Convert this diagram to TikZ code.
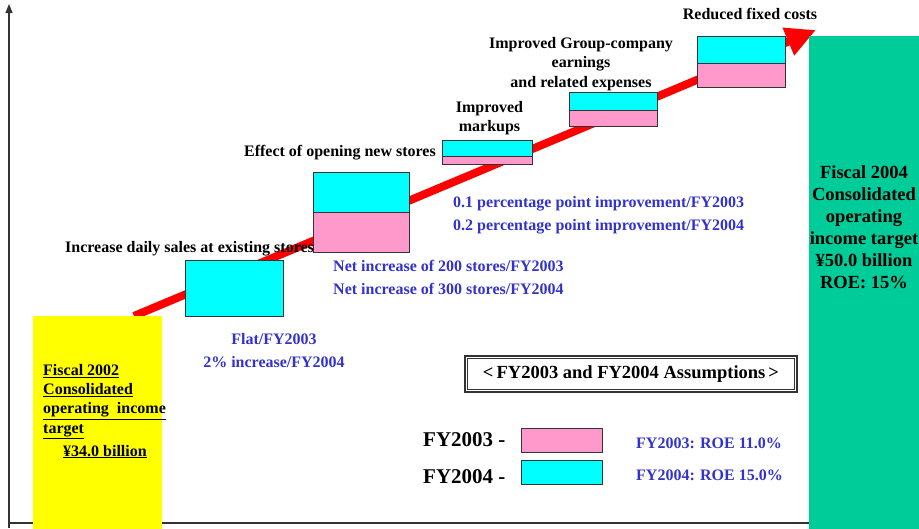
\documentclass[tikz,border=0pt]{standalone}
\usepackage{fontspec}
\setmainfont{Liberation Serif}
\usetikzlibrary{arrows.meta}
\tikzstyle{chart} = [x = 1pt, y = -1pt, every node/.style={inner sep=0pt}]
\definecolor{fyThreeColor}{HTML}{FF99CC}
\definecolor{fyFourColor}{HTML}{00FFFF}
\definecolor{startColor}{HTML}{FFFF00}
\definecolor{targetColor}{HTML}{00CC99}
\definecolor{noteColor}{HTML}{3333CC}
\definecolor{axisColor}{HTML}{333333}
\tikzstyle{axisLine} = [color=axisColor, line width=1.2pt]
\tikzstyle{growthArrow} = [color=red, line width=8pt, -{Triangle[length=30pt, width=28pt]}]
\tikzstyle{barStyle} = [draw=axisColor, line width=0.8pt, anchor=north west]
\tikzstyle{columnStyle} = [anchor=north west]
\tikzstyle{stepText} = [font=\fontsize{16}{19.5}\selectfont\bfseries, align=center]
\tikzstyle{noteText} = [font=\fontsize{16}{23}\selectfont\bfseries, color=noteColor]
\tikzstyle{legendText} = [font=\fontsize{21}{24}\selectfont\bfseries, anchor=base west]
\newcommand{\stepBar}[6]{\node [barStyle, fill=#2, minimum width=#5pt, minimum height=#6pt] (#1) at (#3,#4) {};}
\newcommand{\stepPair}[6]{
  \stepBar{#1Four}{fyFourColor}{#2}{#3}{#4}{#5}
  \pgfmathsetmacro{\lowerTop}{#3 + #5}
  \stepBar{#1Three}{fyThreeColor}{#2}{\lowerTop}{#4}{#6}
}

\begin{document}
\begin{tikzpicture}[chart]
  \useasboundingbox (0,0) rectangle (919,528);
  % axes
  \coordinate (origin) at (9,523);
  \coordinate (yTop) at (9,4);
  \coordinate (xEnd) at (809,523);
  \draw [axisLine, -{Triangle[length=9pt, width=7pt]}] (9,528) -- (yTop);
  \draw [axisLine] (origin) -- (xEnd);
  % growth arrow
  \coordinate (arrowStart) at (134,316);
  \coordinate (arrowEnd) at (816,30);
  \draw [growthArrow] (arrowStart) -- (arrowEnd);
  % start and target columns
  \node [columnStyle, fill=startColor, minimum width=129pt, minimum height=214pt] (startColumn) at (33,316) {};
  \node [columnStyle, fill=targetColor, minimum width=112pt, minimum height=494pt] (targetColumn) at (809,36) {};
  \node [font=\fontsize{16}{19.3}\selectfont\bfseries, align=left, anchor=base west] (startText) at (43,456)
    {\underline{Fiscal 2002}\\\underline{Consolidated}\\\underline{operating\ \ income}\\\underline{target}\\[3.5pt]\hspace{20pt}\underline{¥34.0 billion}};
  \node [font=\fontsize{18.5}{22}\selectfont\bfseries, align=center, anchor=base] (targetText) at (864,288)
    {Fiscal 2004\\Consolidated\\operating\\income target\\¥50.0 billion\\ROE: 15\%};
  % steps
  \stepBar{salesBar}{fyFourColor}{185}{260}{98}{56}
  \stepPair{storesBar}{313}{172}{96}{40}{40}
  \stepPair{markupBar}{442}{140}{90}{16}{8}
  \stepPair{groupBar}{569}{92}{88}{18}{16}
  \stepPair{costBar}{697}{36}{88}{27}{24}
  \node [stepText, anchor=base west] (salesLabel) at (65,252) {Increase daily sales at existing stores};
  \node [stepText, anchor=base east] (storesLabel) at (436,156) {Effect of opening new stores};
  \node [stepText, anchor=base, font=\fontsize{16}{19}\selectfont\bfseries] (markupLabel) at (489.5,131) {Improved\\markups};
  \node [stepText, anchor=base] (groupLabel) at (581,87) {Improved Group-company\\earnings\\and related expenses};
  \node [stepText, anchor=base] (costLabel) at (750,19) {Reduced fixed costs};
  % assumptions per step
  \node [noteText, align=center, anchor=base] (salesNote) at (274,367) {Flat/FY2003\\2\% increase/FY2004};
  \node [noteText, align=left, anchor=base west] (storesNote) at (333,294) {Net increase of 200 stores/FY2003\\Net increase of 300 stores/FY2004};
  \node [noteText, align=left, anchor=base west] (markupNote) at (453,230) {0.1 percentage point improvement/FY2003\\0.2 percentage point improvement/FY2004};
  % legend
  \node [draw=axisColor, line width=1.2pt, minimum width=332pt, minimum height=36pt,
    font=\fontsize{18.5}{20}\selectfont\bfseries] (legendTitle) at (631,374) {<\,FY2003 and FY2004 Assumptions\,>};
  \draw [axisColor, line width=1pt] ([shift={(3.5,3.5)}]legendTitle.north west) rectangle ([shift={(-3.5,-3.5)}]legendTitle.south east);
  \node [legendText] (threeLabel) at (423,446) {FY2003 -};
  \node [legendText] (fourLabel) at (423,483) {FY2004 -};
  \stepBar{threeKey}{fyThreeColor}{521}{428}{81}{24}
  \stepBar{fourKey}{fyFourColor}{521}{460}{81}{24}
  \node [noteText, anchor=base west] (threeRoe) at (636,448) {FY2003: ROE 11.0\%};
  \node [noteText, anchor=base west] (fourRoe) at (636,480) {FY2004: ROE 15.0\%};
\end{tikzpicture}
\end{document}
